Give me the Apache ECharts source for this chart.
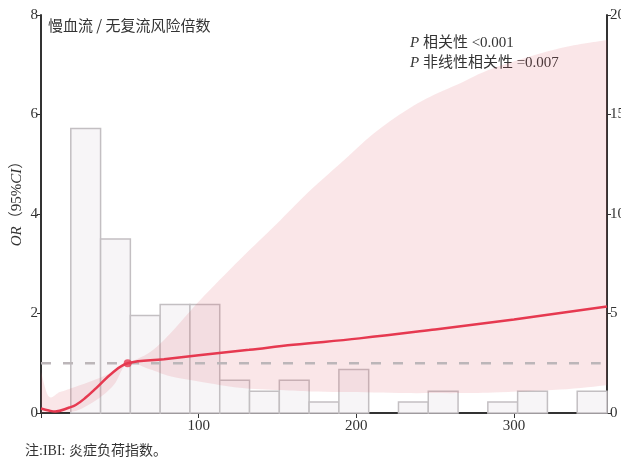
<!DOCTYPE html>
<html>
<head>
<meta charset="utf-8">
<script src="https://cdn.jsdelivr.net/npm/echarts@6/dist/echarts.min.js"></script>
<style>
  html, body { margin: 0; padding: 0; background: #fff; }
  #chart { width: 621px; height: 464px; }
</style>
</head>
<body>
<div id="chart"></div>
<script>
// IBI range and histogram of the sample distribution (percent of patients per bin)
const ibiMax = 359;
const binCount = 19;
const binPercent = [0, 14.3, 8.75, 4.9, 5.45, 5.45, 1.64, 1.09, 1.64, 0.55, 2.18, 0, 0.55, 1.09, 0, 0.55, 1.09, 0, 1.09];

// Restricted cubic spline: OR estimate
const curveX  = [0, 5, 9, 18, 22, 28, 35, 45, 55, 78, 100, 132, 160, 202, 250, 300, 359];
const curveOR = [0.09, 0.05, 0.03, 0.11, 0.16, 0.3, 0.5, 0.8, 1.0, 1.08, 1.16, 1.27, 1.37, 1.5, 1.68, 1.88, 2.14];

// 95% confidence band (upper and lower limits share the same IBI positions)
const ciX     = [0, 5, 12, 22, 30, 39, 47, 55, 69, 82, 101, 126, 152, 171, 190, 211, 232, 249, 266, 287, 329, 359];
const ciUpper = [0.83, 0.33, 0.42, 0.53, 0.62, 0.73, 0.85, 1.0, 1.22, 1.6, 2.27, 3.08, 3.88, 4.48, 5.02, 5.62, 6.09, 6.39, 6.63, 6.93, 7.33, 7.5];
const ciLower = [0, 0, 0.01, 0.04, 0.16, 0.35, 0.6, 1.0, 0.88, 0.74, 0.63, 0.51, 0.46, 0.43, 0.42, 0.41, 0.4, 0.4, 0.4, 0.41, 0.47, 0.56];

// Reference point (OR = 1)
const refX = 55;
const refOR = 1;

const yTicksLeft  = { min: 0, max: 8, interval: 2 };
const yTicksRight = { min: 0, max: 20, interval: 5 };
const xTicks      = { min: 0, max: ibiMax, interval: 100 };

const titleText = '慢血流 / 无复流风险倍数';
const pLines = ['{i|P} 相关性 <0.001', '{i|P} 非线性相关性 =0.007'];
const noteText = '注:IBI: 炎症负荷指数。';

const serif = '"Liberation Serif", "Noto Sans CJK SC", serif';
const ink = '#333';

const binWidth = ibiMax / binCount;
const histData = binPercent.map((v, i) => [i * binWidth, (i + 1) * binWidth, v]);

// Catmull-Rom segment commands through pixel points (continues an open path)
function splineSegments(pts) {
  let d = '';
  for (let i = 0; i < pts.length - 1; i++) {
    const p0 = pts[Math.max(i - 1, 0)];
    const p1 = pts[i];
    const p2 = pts[i + 1];
    const p3 = pts[Math.min(i + 2, pts.length - 1)];
    const t = 1 / 6;
    const c1 = [p1[0] + (p2[0] - p0[0]) * t, p1[1] + (p2[1] - p0[1]) * t];
    const c2 = [p2[0] - (p3[0] - p1[0]) * t, p2[1] - (p3[1] - p1[1]) * t];
    d += ` C${c1[0]},${c1[1]} ${c2[0]},${c2[1]} ${p2[0]},${p2[1]}`;
  }
  return d;
}

const axisCommon = {
  axisLine: { show: true, lineStyle: { color: ink, width: 2 } },
  axisTick: { show: true, inside: false, length: 4, lineStyle: { color: ink, width: 1 } },
  splitLine: { show: false },
  axisLabel: { color: ink, fontFamily: serif, fontSize: 15, margin: 3 }
};

const chart = echarts.init(document.getElementById('chart'), null, { renderer: 'canvas' });

chart.setOption({
  animation: false,
  backgroundColor: '#fff',
  grid: { left: 41, right: 14, top: 15, bottom: 51, containLabel: false, outerBoundsMode: 'none' },
  xAxis: {
    type: 'value',
    min: xTicks.min, max: xTicks.max, interval: xTicks.interval,
    ...axisCommon,
    axisTick: { show: true, length: 5, lineStyle: { color: ink, width: 1 } },
    axisLabel: {
      ...axisCommon.axisLabel, margin: 6,
      showMaxLabel: false,
      formatter: v => (v === 0 ? '' : String(v))
    }
  },
  yAxis: [
    { type: 'value', position: 'left', ...yTicksLeft, ...axisCommon },
    { type: 'value', position: 'right', ...yTicksRight, ...axisCommon }
  ],
  series: [
    {
      type: 'custom',
      yAxisIndex: 1,
      z: 1,
      data: histData,
      renderItem: (params, api) => {
        if (api.value(2) <= 0) return null;
        const p0 = api.coord([api.value(0), 0]);
        const p1 = api.coord([api.value(1), api.value(2)]);
        return {
          type: 'rect',
          shape: { x: p0[0], y: p1[1], width: p1[0] - p0[0], height: p0[1] - p1[1] },
          style: { fill: '#f7f5f7', stroke: '#c3bfc2', lineWidth: 1.5 }
        };
      }
    },
    {
      // confidence band: upper edge left→right, lower edge right→left
      type: 'custom',
      z: 2,
      data: [[0]],
      renderItem: (params, api) => {
        const up = ciX.map((x, i) => api.coord([x, ciUpper[i]]));
        const lo = ciX.map((x, i) => api.coord([x, ciLower[i]])).reverse();
        const d = `M${up[0][0]},${up[0][1]}` + splineSegments(up) +
                  ` L${lo[0][0]},${lo[0][1]}` + splineSegments(lo) + ' Z';
        return {
          type: 'path',
          shape: { pathData: d },
          style: { fill: 'rgba(222, 88, 102, 0.15)', stroke: null }
        };
      }
    },
    {
      type: 'line',
      z: 3,
      symbol: 'none',
      lineStyle: { color: '#bcb6b9', width: 2.5, type: [10, 12] },
      data: [[0, refOR], [ibiMax - 4, refOR]]
    },
    {
      type: 'line',
      z: 4,
      smooth: 0.4,
      symbol: 'none',
      lineStyle: { color: '#e63950', width: 2.5 },
      data: curveX.map((x, i) => [x, curveOR[i]])
    },
    {
      type: 'scatter',
      z: 5,
      symbolSize: 8,
      itemStyle: { color: '#e63950' },
      data: [[refX, refOR]]
    }
  ],
  graphic: [
    {
      type: 'text', left: 48, top: 18,
      style: { text: titleText, fill: ink, font: '15px "Noto Sans CJK SC", sans-serif' }
    },
    {
      type: 'text', x: 410, y: 33,
      style: {
        text: pLines.join('\n'), fill: ink, fontFamily: serif, fontSize: 15, lineHeight: 20,
        verticalAlign: 'top',
        rich: { i: { fontStyle: 'italic', fontFamily: serif, fontSize: 15, fill: ink, lineHeight: 20 } }
      }
    },
    {
      type: 'text', x: 17, y: 200, rotation: Math.PI / 2,
      style: {
        text: '{i|OR}（95%{i|CI}）', fill: ink, fontFamily: serif, fontSize: 15,
        align: 'center', verticalAlign: 'middle',
        rich: { i: { fontStyle: 'italic', fontFamily: serif, fontSize: 15, fill: ink } }
      }
    },
    {
      type: 'text', left: 25, top: 444,
      style: { text: noteText, fill: ink, fontFamily: serif, fontSize: 14 }
    }
  ]
});
</script>
</body>
</html>
